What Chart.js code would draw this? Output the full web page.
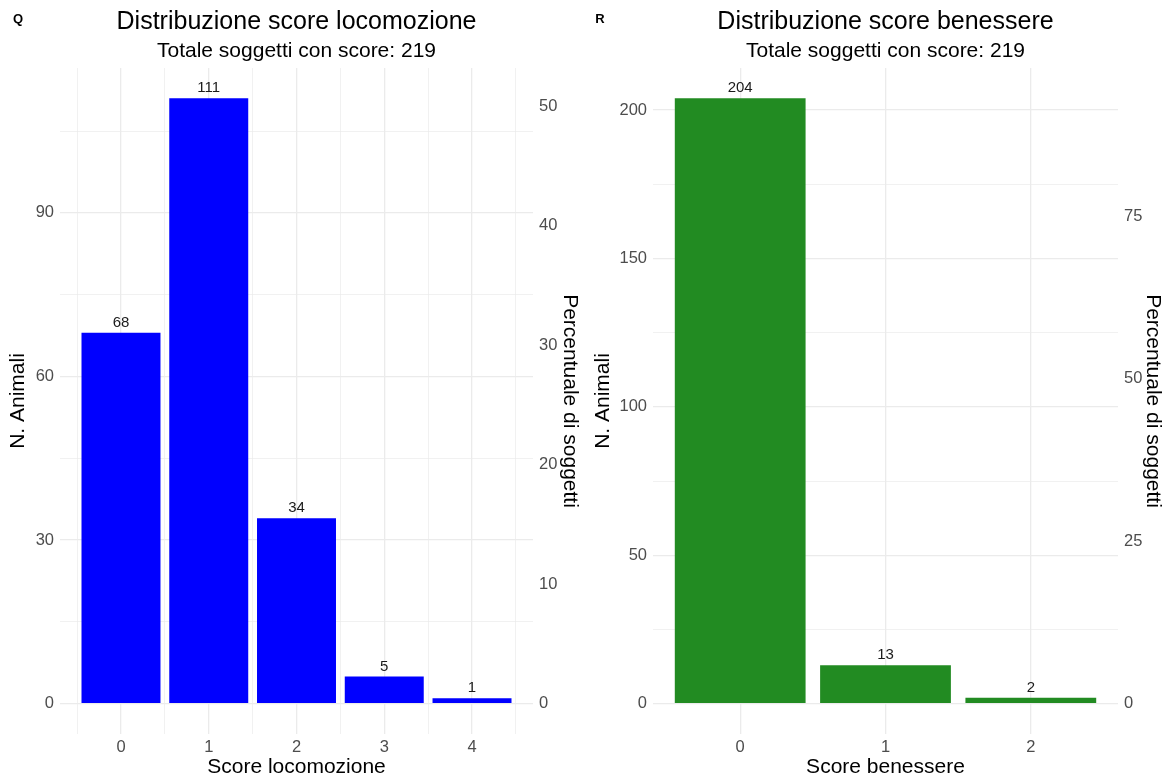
<!DOCTYPE html>
<html>
<head>
<meta charset="utf-8">
<script src="https://cdn.jsdelivr.net/npm/chart.js@4.4.0/dist/chart.umd.min.js"></script>
<style>
  body { margin: 0; background: #fff; }
  .panel { position: absolute; top: 0; height: 783px; }
  #left { left: 0; width: 588px; }
  #right { left: 588px; width: 583px; }
</style>
</head>
<body>
<div class="panel" id="left"><canvas id="chartQ"></canvas></div>
<div class="panel" id="right"><canvas id="chartR"></canvas></div>
<script>
const totale = 219

const locoScores = ['0', '1', '2', '3', '4']
const locoCounts = [68, 111, 34, 5, 1]
const locoTicks = [0, 30, 60, 90]
const locoPctTicks = [0, 10, 20, 30, 40, 50]

const beneScores = ['0', '1', '2']
const beneCounts = [204, 13, 2]
const beneTicks = [0, 50, 100, 150, 200]
const benePctTicks = [0, 25, 50, 75]

const font = "'Liberation Sans', Arial, sans-serif"
const gridColor = '#ebebeb'
const tickGray = '#4d4d4d'

// titles, subtitle and panel letter above the plot
const header = {
  id: 'header',
  afterDraw(chart, args, o) {
    const { ctx, chartArea } = chart
    const cx = (chartArea.left + chartArea.right) / 2
    ctx.save()
    ctx.fillStyle = '#000'
    ctx.textAlign = 'center'
    ctx.textBaseline = 'alphabetic'
    ctx.font = `25px ${font}`
    ctx.fillText(o.title, cx, 29)
    ctx.font = `21px ${font}`
    ctx.fillText(o.subtitle, cx, 57)
    ctx.font = `bold 13px ${font}`
    ctx.fillText(o.letter, o.letterX, 23)
    ctx.restore()
  }
}

// count written above each bar
const barLabels = {
  id: 'barLabels',
  afterDatasetsDraw(chart) {
    const { ctx } = chart
    const meta = chart.getDatasetMeta(0)
    ctx.save()
    ctx.font = `15px ${font}`
    ctx.fillStyle = '#1a1a1a'
    ctx.textAlign = 'center'
    ctx.textBaseline = 'middle'
    meta.data.forEach((bar, i) => {
      ctx.fillText(chart.data.datasets[0].data[i].y, bar.x, bar.y - 10)
    })
    ctx.restore()
  }
}

function drawPanel(id, p) {
  const top = Math.max(...p.counts)
  const yMax = top * 1.05
  const yMin = -top * 0.05
  const half = (p.ticks[1] - p.ticks[0]) / 2
  const yGrid = []
  for (let v = 0; v <= yMax; v += half) yGrid.push(v)

  new Chart(document.getElementById(id), {
    type: 'bar',
    data: {
      datasets: [{
        data: p.counts.map((c, i) => ({ x: i, y: c })),
        backgroundColor: p.color,
        barPercentage: p.barPct,
        categoryPercentage: 1
      }]
    },
    options: {
      responsive: true,
      maintainAspectRatio: false,
      animation: false,
      layout: { padding: { top: 68 } },
      plugins: {
        legend: { display: false },
        tooltip: { enabled: false },
        header: { title: p.title, subtitle: `Totale soggetti con score: ${totale}`, letter: p.letter, letterX: p.letterX }
      },
      scales: {
        x: {
          type: 'linear',
          offset: false,
          min: p.xMin,
          max: p.xMax,
          afterBuildTicks: s => { s.ticks = p.xGrid.map(v => ({ value: v })) },
          afterFit: s => { s.height = 49 },
          border: { display: false, width: 0 },
          grid: {
            offset: false,
            color: gridColor,
            lineWidth: c => (c.tick && !Number.isInteger(c.tick.value)) ? 0.7 : 1.3,
            drawTicks: false
          },
          ticks: {
            autoSkip: false,
            maxRotation: 0,
            padding: 4,
            color: tickGray,
            font: { family: font, size: 16.5 },
            callback: v => Number.isInteger(v) ? p.scores[v] : ''
          },
          title: { display: true, text: p.xTitle, color: '#000', font: { family: font, size: 21 }, padding: { top: 0, bottom: 3 } }
        },
        y: {
          min: yMin,
          max: yMax,
          afterBuildTicks: s => { s.ticks = yGrid.map(v => ({ value: v })) },
          afterFit: s => { s.width = p.leftW },
          border: { display: false, width: 0 },
          grid: {
            color: gridColor,
            lineWidth: c => (c.tick && !p.ticks.includes(c.tick.value)) ? 0.7 : 1.3,
            drawTicks: false
          },
          ticks: {
            padding: 6,
            color: tickGray,
            font: { family: font, size: 16.5 },
            callback: v => p.ticks.includes(v) ? v : ''
          },
          title: { display: true, text: 'N. Animali', color: '#000', font: { family: font, size: 21 }, padding: { top: p.leftPad, bottom: 0 } }
        },
        y2: {
          position: 'right',
          min: yMin / totale * 100,
          max: yMax / totale * 100,
          afterBuildTicks: s => { s.ticks = p.pctTicks.map(v => ({ value: v })) },
          afterFit: s => { s.width = p.rightW },
          border: { display: false, width: 0 },
          grid: { drawOnChartArea: false, drawTicks: false },
          ticks: {
            padding: 6,
            color: tickGray,
            font: { family: font, size: 16.5 }
          },
          title: { display: true, text: 'Percentuale di soggetti', color: '#000', font: { family: font, size: 21 }, padding: { top: 5.4, bottom: 0 } }
        }
      }
    },
    plugins: [header, barLabels]
  })
}

// left panel: continuous x, grid every 0.5
const locoGrid = []
for (let i = 0; i <= locoScores.length * 2; i++) locoGrid.push(i / 2 - 0.5)

drawPanel('chartQ', {
  letter: 'Q', letterX: 18,
  title: 'Distribuzione score locomozione',
  xTitle: 'Score locomozione',
  scores: locoScores, counts: locoCounts,
  ticks: locoTicks, pctTicks: locoPctTicks,
  color: '#0000ff',
  xMin: -0.695, xMax: locoScores.length - 1 + 0.695,
  xGrid: locoGrid,
  barPct: 1.8, // ticks are every half unit, so bar ruler is half the category
  leftW: 60, rightW: 55, leftPad: 5.4
})

drawPanel('chartR', {
  letter: 'R', letterX: 12,
  title: 'Distribuzione score benessere',
  xTitle: 'Score benessere',
  scores: beneScores, counts: beneCounts,
  ticks: beneTicks, pctTicks: benePctTicks,
  color: '#228b22',
  xMin: -0.6, xMax: beneScores.length - 1 + 0.6,
  xGrid: beneScores.map((s, i) => i),
  barPct: 0.9,
  leftW: 65, rightW: 53, leftPad: 2.4
})
</script>
</body>
</html>
